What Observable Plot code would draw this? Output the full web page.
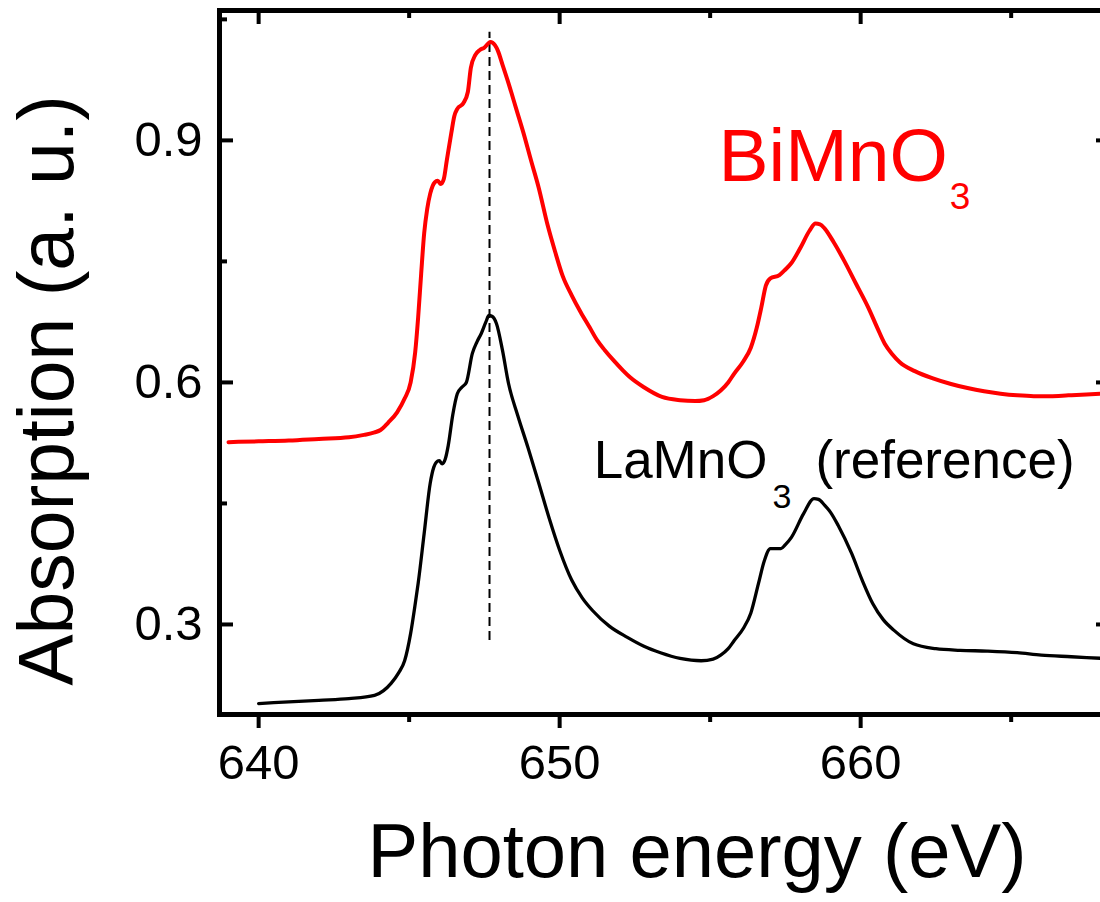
<!DOCTYPE html>
<html>
<head>
<meta charset="utf-8">
<script src="https://cdn.jsdelivr.net/npm/d3@7"></script>
<script src="https://cdn.jsdelivr.net/npm/@observablehq/plot@0.6"></script>
<style>
html, body { margin: 0; padding: 0; overflow: hidden; background: #fff; }
#chart svg { display: block; }
</style>
</head>
<body>
<div id="chart"></div>
<script>
// ---- data ----
const energyBi = [639.0,640.0,641.0,642.0,643.0,643.5,643.85,644.05,644.3,644.6,644.85,645.05,645.2,645.3,645.4,645.5,645.6,645.7,645.85,645.95,646.05,646.15,646.25,646.4,646.5,646.6,646.8,646.95,647.05,647.2,647.35,647.5,647.7,647.85,647.95,648.1,648.3,648.55,648.8,649.05,649.3,649.6,649.85,650.1,650.4,650.7,651.0,651.25,651.5,651.8,652.1,652.35,652.8,653.4,654.0,654.5,654.8,655.1,655.35,655.6,655.8,656.1,656.35,656.55,656.7,656.85,657.0,657.3,657.5,657.7,658.0,658.3,658.5,658.65,658.8,659.1,659.45,659.85,660.25,660.55,660.8,661.05,661.3,661.8,662.4,663.0,663.55,664.1,664.65,665.2,665.75,666.3,666.9,667.5,668.0];
const absBi = [0.526,0.527,0.528,0.530,0.532,0.535,0.538,0.541,0.550,0.563,0.580,0.600,0.637,0.681,0.735,0.785,0.815,0.834,0.848,0.850,0.846,0.852,0.875,0.909,0.930,0.939,0.946,0.960,0.990,1.006,1.012,1.015,1.022,1.018,1.011,0.994,0.971,0.940,0.909,0.875,0.842,0.795,0.762,0.732,0.708,0.687,0.668,0.652,0.640,0.627,0.615,0.606,0.594,0.582,0.578,0.577,0.578,0.583,0.590,0.600,0.611,0.626,0.643,0.668,0.693,0.720,0.729,0.733,0.740,0.748,0.767,0.788,0.797,0.796,0.791,0.774,0.751,0.722,0.693,0.668,0.648,0.635,0.625,0.614,0.605,0.598,0.593,0.589,0.586,0.584,0.583,0.583,0.584,0.585,0.586];

const energyLa = [640.0,641.0,642.0,643.0,643.85,644.15,644.4,644.65,644.85,645.05,645.2,645.3,645.5,645.7,645.82,645.9,646.0,646.1,646.2,646.3,646.45,646.6,646.75,646.9,647.1,647.25,647.4,647.55,647.65,647.75,647.9,648.1,648.3,648.6,648.95,649.3,649.65,650.0,650.4,650.75,651.1,651.65,652.25,652.8,653.35,654.0,654.7,655.1,655.35,655.6,655.8,656.1,656.35,656.6,656.8,657.0,657.35,657.5,657.7,658.1,658.45,658.6,658.8,659.0,659.25,659.7,660.05,660.4,660.75,661.1,661.75,662.5,663.3,664.2,665.2,666.0,667.0,668.0];
const absLa = [0.202,0.204,0.206,0.208,0.212,0.218,0.227,0.240,0.255,0.289,0.325,0.351,0.413,0.475,0.495,0.501,0.503,0.499,0.505,0.522,0.560,0.586,0.594,0.600,0.636,0.650,0.661,0.675,0.683,0.682,0.673,0.640,0.599,0.560,0.519,0.476,0.432,0.392,0.355,0.333,0.317,0.298,0.284,0.273,0.265,0.258,0.255,0.257,0.262,0.270,0.280,0.295,0.314,0.350,0.379,0.394,0.394,0.399,0.408,0.437,0.456,0.455,0.448,0.439,0.423,0.388,0.355,0.326,0.306,0.293,0.276,0.270,0.268,0.267,0.265,0.262,0.260,0.258];

const xMajorTicks = [640, 650, 660];
const xMinorTicks = [645, 655, 665];
const yMajorTicks = [0.3, 0.6, 0.9];
const yMinorTicks = [0.45, 0.75, 1.05];
const xDomain = [638.7, 668.3];
const yDomain = [0.1884, 1.061];

const peakEnergy = 647.67;
const peakLineBottom = 0.28;
const peakLineTop = 1.034;

const labelBi = {text: "BiMnO3", x: 655.28, y: 0.850};
const labelLa = {text: "LaMnO3 (reference)", x: 651.13, y: 0.481};
const xTitle = "Photon energy (eV)";
const yTitle = "Absorption (a. u.)";

// ---- build tables ----
const bi = energyBi.map((e, i) => ({energy: e, abs: absBi[i]}));
const la = energyLa.map((e, i) => ({energy: e, abs: absLa[i]}));
const peak = [{energy: peakEnergy, y1: peakLineBottom, y2: peakLineTop}];

const width = 1100, height = 902;
const mL = 219, mR = -10, mT = 10, mB = 188;
const W = width - mL - mR, H = height - mT - mB;
const font = "'Liberation Sans', Arial, Helvetica, sans-serif";
const major = 14, minor = 8;

const plot = Plot.plot({
  width, height,
  marginLeft: mL, marginRight: mR, marginTop: mT, marginBottom: mB,
  style: {fontFamily: font, background: "white", overflow: "hidden"},
  x: {domain: xDomain, axis: null},
  y: {domain: yDomain, axis: null},
  marks: [
    // ticks: bottom (outward), top (inward), left (inward), right (inward)
    Plot.ruleX(xMajorTicks, {stroke: "black", strokeWidth: 4, insetTop: H, insetBottom: -major}),
    Plot.ruleX(xMinorTicks, {stroke: "black", strokeWidth: 4, insetTop: H, insetBottom: -minor}),
    Plot.ruleX(xMajorTicks, {stroke: "black", strokeWidth: 4, insetTop: 0, insetBottom: H - major}),
    Plot.ruleX(xMinorTicks, {stroke: "black", strokeWidth: 4, insetTop: 0, insetBottom: H - minor}),
    Plot.ruleY(yMajorTicks, {stroke: "black", strokeWidth: 4, insetLeft: 0, insetRight: W - major}),
    Plot.ruleY(yMinorTicks, {stroke: "black", strokeWidth: 4, insetLeft: 0, insetRight: W - minor}),
    Plot.ruleY(yMajorTicks, {stroke: "black", strokeWidth: 4, insetLeft: W - major, insetRight: 0}),
    Plot.ruleY(yMinorTicks, {stroke: "black", strokeWidth: 4, insetLeft: W - minor, insetRight: 0}),
    // dashed reference line
    Plot.ruleX(peak, {x: "energy", y1: "y1", y2: "y2", stroke: "black", strokeWidth: 2, strokeDasharray: "9,5"}),
    // spectra
    Plot.line(la, {x: "energy", y: "abs", stroke: "black", strokeWidth: 3.3, curve: "monotone-x"}),
    Plot.line(bi, {x: "energy", y: "abs", stroke: "#ff0000", strokeWidth: 4, curve: "monotone-x"}),
    // frame
    Plot.frame({stroke: "black", strokeWidth: 5}),
    // tick labels
    Plot.text(xMajorTicks, {x: d => d, frameAnchor: "bottom", textAnchor: "middle", lineAnchor: "bottom", dy: 64, text: d => String(d), fontSize: 49, fill: "black", fontFamily: font}),
    Plot.text(yMajorTicks, {y: d => d, frameAnchor: "left", textAnchor: "end", dx: -17, text: d => d.toFixed(1), fontSize: 49, fill: "black", fontFamily: font}),
    // axis titles
    Plot.text([xTitle], {frameAnchor: "bottom", textAnchor: "middle", lineAnchor: "bottom", dx: 32, dy: 162, text: d => d, fontSize: 76, fill: "black", fontFamily: font}),
    Plot.text([yTitle], {frameAnchor: "left", textAnchor: "middle", lineAnchor: "bottom", rotate: -90, dx: -147, dy: 28, text: d => d, fontSize: 77, fill: "black", fontFamily: font}),
    // series labels
    Plot.text([labelBi], {x: "x", y: "y", text: "text", textAnchor: "start", lineAnchor: "bottom", fontSize: 75, fill: "#ff0000", fontFamily: font}),
    Plot.text([labelLa], {x: "x", y: "y", text: "text", textAnchor: "start", lineAnchor: "bottom", fontSize: 53, fill: "black", fontFamily: font})
  ]
});

// subscripts for chemical formulas
d3.select(plot).selectAll("text").each(function () {
  const t = this.textContent;
  const sel = d3.select(this);
  if (t === "BiMnO3") {
    sel.text(null);
    sel.append("tspan").text("BiMnO");
    sel.append("tspan").attr("dx", 2).attr("dy", 28).style("font-size", "37px").text("3");
  } else if (t === "LaMnO3 (reference)") {
    sel.text(null);
    sel.append("tspan").text("LaMnO");
    sel.append("tspan").attr("dx", 5).attr("dy", 30).style("font-size", "34px").text("3");
    sel.append("tspan").attr("dx", 24).attr("dy", -30).text("(reference)");
  }
});

document.getElementById("chart").appendChild(plot);
</script>
</body>
</html>
